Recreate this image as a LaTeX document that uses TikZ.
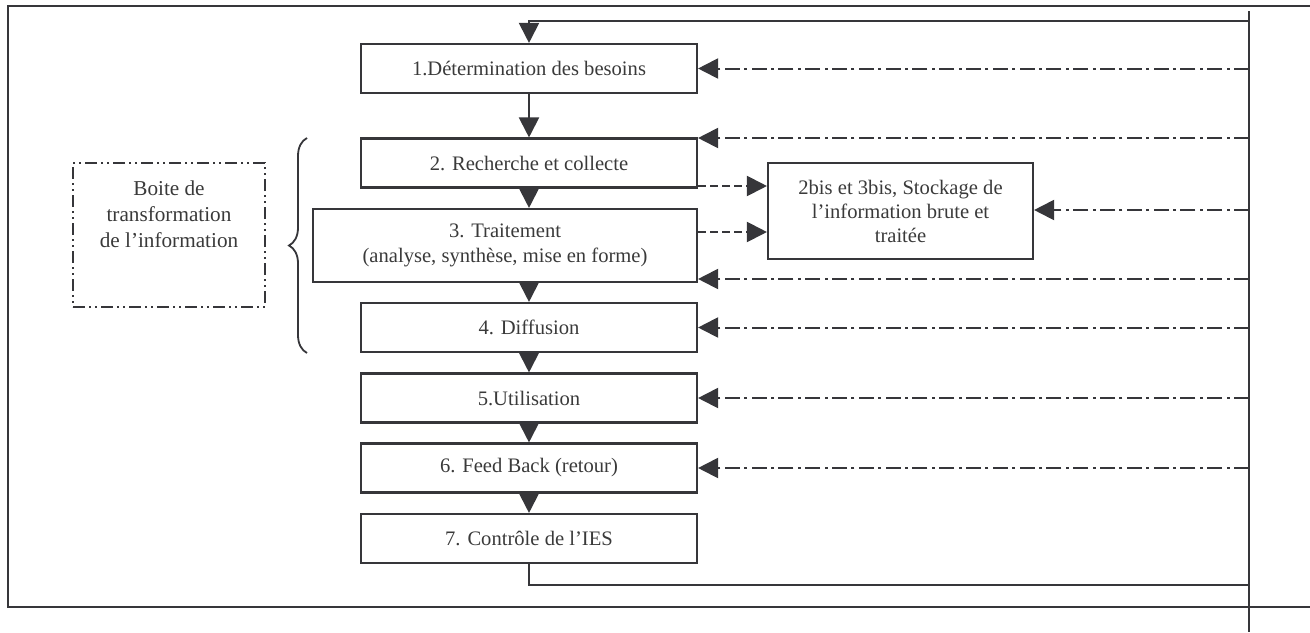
\documentclass[tikz,border=0pt]{standalone}
\usepackage{fontspec}
\setmainfont{Liberation Serif}
\usetikzlibrary{arrows.meta,decorations.pathreplacing,calc}
\definecolor{ink}{HTML}{36363A}
\definecolor{txt}{HTML}{3A3A3A}
\begin{document}
\begin{tikzpicture}[x=0.5pt,y=-0.5pt,
  box/.style={draw=ink, line width=1.05pt, inner sep=0pt, minimum width=168pt,
    minimum height=24.5pt, align=center, text=txt, font=\fontsize{10.3}{12.5}\selectfont},
  lbl/.style={inner sep=0pt, align=center, text=txt, font=\fontsize{10.6}{13}\selectfont},
  conn/.style={draw=ink, line width=1pt},
  arr/.style={conn, -{Triangle[length=10pt,width=10pt]}},
  ddot/.style={arr, dash pattern=on 7.5pt off 2.2pt on 1.5pt off 2.2pt},
  dsh/.style={arr, dash pattern=on 4pt off 2pt},
  ddd/.style={draw=ink, line width=1pt, dash pattern=on 6pt off 2pt on 1pt off 2pt on 1pt off 2pt}]
\useasboundingbox (0,0) rectangle (1310,632);

% outer frame
\draw[ink, line width=1.1pt] (1310,6) -- (8,6) -- (8,607) -- (1310,607);

% main boxes
\node[box] (b1) at (529,68.5) {1.Détermination des besoins};
\node[box] (b2) at (529,163) {2. Recherche et collecte};
\node[box, minimum width=192pt, minimum height=36.5pt] (b3) at (505,245.5)
  {3. Traitement\\(analyse, synthèse, mise en forme)};
\node[box] (b4) at (529,327.5) {4. Diffusion};
\node[box] (b5) at (529,398) {5.Utilisation};
\node[box] (b6) at (529,468) {6. Feed Back (retour)};
\node[box] (b7) at (529,538.5) {7. Contrôle de l’IES};

% storage box
\node[box, minimum width=132.5pt, minimum height=48pt, font=\fontsize{10.3}{12}\selectfont] (st) at (900.5,211)
  {2bis et 3bis, Stockage de\\l’information brute et\\traitée};

% boite de transformation
\node[ddd, minimum width=96pt, minimum height=72pt, inner sep=0pt] (bx) at (169,235) {};
\node[lbl] (bxt) at (169,214.5) {Boite de\\transformation\\de l’information};

% brace
\coordinate (brb) at (307,353);
\coordinate (brt) at (307,138);
\draw[ink, line width=0.9pt, decorate, decoration={brace, amplitude=9pt}] (brb) -- (brt);

% vertical return line
\coordinate (vtop) at (1249,11);
\coordinate (vbot) at (1249,632);
\draw[conn, line width=1.1pt] (vtop) -- (vbot);

% top feedback into box 1
\coordinate (ftop) at (1249,21);
\draw[arr] (ftop) -- (b1.north |- ftop) -- (b1.north);

% bottom feedback from box 7
\coordinate (fbot) at (1249,585);
\draw[conn] (b7.south) -- (b7.south |- fbot) -- (fbot);

% flow arrows
\draw[arr] (b1.south) -- (b2.north);
\draw[arr] (b2.south) -- (b2.south |- b3.north);
\draw[arr] (b4.north |- b3.south) -- (b4.north);
\draw[arr] (b4.south) -- (b5.north);
\draw[arr] (b5.south) -- (b6.north);
\draw[arr] (b6.south) -- (b7.north);

% dashed arrows into storage
\coordinate (y186) at (0,186);
\coordinate (y232) at (0,232);
\draw[dsh] (b2.east |- y186) -- (st.west |- y186);
\draw[dsh] (b3.east |- y232) -- (st.west |- y232);

% dash-dot arrows from the return line
\coordinate (y138) at (0,138);
\coordinate (y279) at (0,279);
\coordinate (y210) at (0,210);
\draw[ddot] (vtop |- b1.east) -- (b1.east);
\draw[ddot] (vtop |- y138) -- (b2.east |- y138);
\draw[ddot] (vtop |- y210) -- (st.east |- y210);
\draw[ddot] (vtop |- y279) -- (b3.east |- y279);
\draw[ddot] (vtop |- b4.east) -- (b4.east);
\draw[ddot] (vtop |- b5.east) -- (b5.east);
\draw[ddot] (vtop |- b6.east) -- (b6.east);
\end{tikzpicture}
\end{document}
